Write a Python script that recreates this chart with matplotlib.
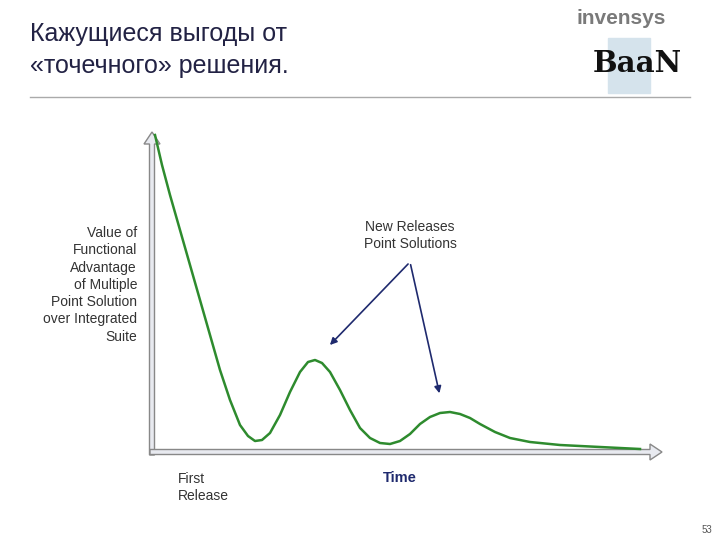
import matplotlib.pyplot as plt
from matplotlib.patches import FancyArrow, Rectangle

plt.rcParams['font.family'] = ['Liberation Sans', 'DejaVu Sans']

# curve (pixel coords of the slide)
curve_x = [155, 162, 170, 180, 190, 200, 210, 220, 230, 240, 248, 255, 262, 270, 280, 290, 300,
           308, 315, 322, 330, 340, 350, 360, 370, 380, 390, 400, 410, 420, 430, 440, 450,
           460, 470, 480, 495, 510, 530, 560, 600, 640]
curve_y = [135, 165, 195, 230, 265, 300, 335, 370, 400, 425, 436, 441, 440, 433, 415, 392, 372,
           362, 360, 363, 372, 390, 410, 428, 438, 443, 444, 441, 434, 424, 417, 413, 412,
           414, 418, 424, 432, 438, 442, 445, 447, 449]

title = "Кажущиеся выгоды от\n«точечного» решения."
ylabel = "Value of\nFunctional\nAdvantage\nof Multiple\nPoint Solution\nover Integrated\nSuite"
callout = "New Releases\nPoint Solutions"

fig = plt.figure(figsize=(7.2, 5.4), dpi=100)
ax = fig.add_axes([0, 0, 1, 1])
ax.set_xlim(0, 720)
ax.set_ylim(540, 0)
ax.axis('off')

ax.text(30, 22, title, fontsize=18, va='top', ha='left', color='#222244', linespacing=1.4)
ax.plot([30, 690], [97, 97], color='#aaaaaa', lw=1)
ax.add_patch(Rectangle((608, 38), 42, 55, color='#d5e3ec', zorder=1))
ax.text(621, 18, "invensys", fontsize=15, color='#7a7a7a', ha='center', va='center', weight='bold')
ax.text(637, 64, "BaaN", fontsize=21, color='#111111', ha='center', va='center',
        family='DejaVu Serif', weight='bold', zorder=2)

# axes
ax.add_patch(FancyArrow(152, 455, 0, -323, width=5, head_width=16, head_length=12,
                        length_includes_head=True, fc='#e8eaf0', ec='#888888', lw=1, zorder=2))
ax.add_patch(FancyArrow(150, 452, 512, 0, width=5, head_width=16, head_length=12,
                        length_includes_head=True, fc='#e8eaf0', ec='#888888', lw=1, zorder=2))

ax.plot(curve_x, curve_y, color='#2e8b2e', lw=1.8, zorder=3)

ax.text(137, 226, ylabel, fontsize=10, ha='right', va='top', color='#333333', linespacing=1.3)
ax.text(410, 220, callout, fontsize=10, ha='center', va='top', color='#333333', linespacing=1.3)
ax.annotate("", xy=(328, 347), xytext=(410, 262),
            arrowprops=dict(arrowstyle='-|>', color='#1f2a6e', lw=1.2))
ax.annotate("", xy=(440, 396), xytext=(410, 262),
            arrowprops=dict(arrowstyle='-|>', color='#1f2a6e', lw=1.2))

ax.text(178, 472, "First\nRelease", fontsize=10, ha='left', va='top', color='#333333', linespacing=1.3)
ax.text(400, 478, "Time", fontsize=10.5, ha='center', va='center', color='#1f2a6e', weight='bold')
ax.text(712, 530, "53", fontsize=7, ha='right', va='center', color='#555555')

fig.savefig("out.png", dpi=100)
